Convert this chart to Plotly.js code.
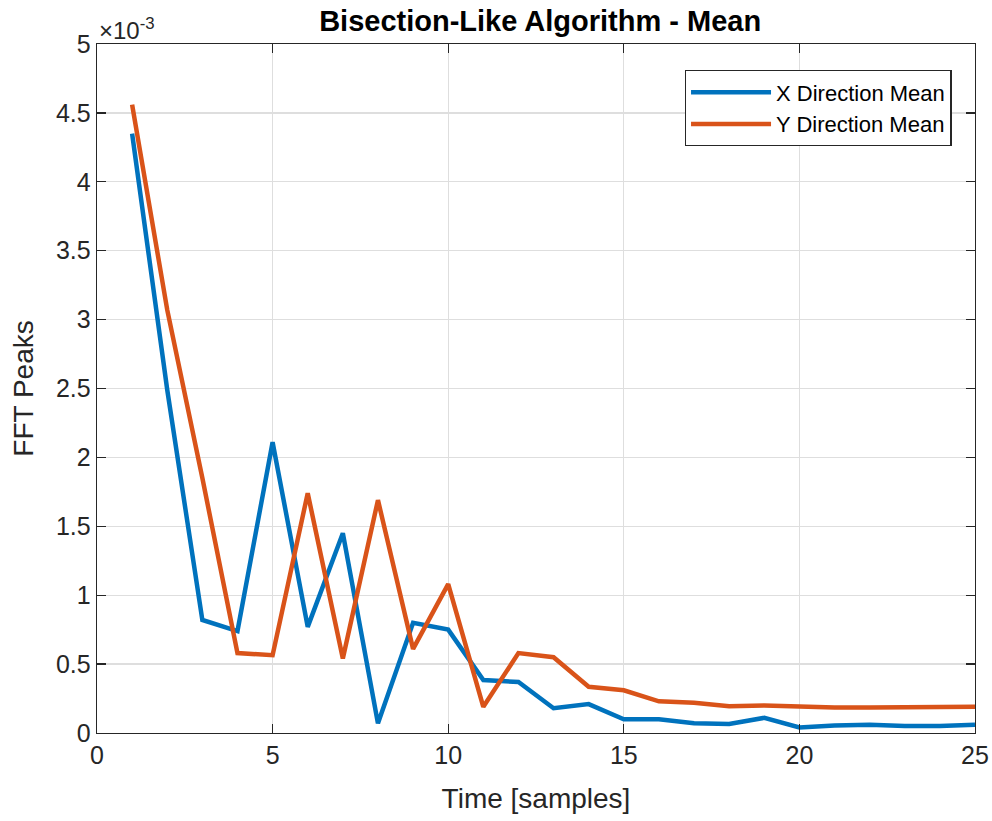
<!DOCTYPE html>
<html>
<head>
<meta charset="utf-8">
<script src="https://cdn.plot.ly/plotly-3.0.1.min.js"></script>
<style>
  html, body { margin: 0; padding: 0; background: #fff; }
  #chart { width: 992px; height: 821px; }
</style>
</head>
<body>
<div id="chart"></div>
<script>
// Time axis (samples) and per-sample mean FFT peaks, in units of 1e-3
const samples = [1, 2, 3, 4, 5, 6, 7, 8, 9, 10, 11, 12, 13, 14, 15, 16, 17, 18, 19, 20, 21, 22, 23, 24, 25];
const xDirectionMean = [4.35, 2.49, 0.82, 0.74, 2.11, 0.77, 1.45, 0.07, 0.80, 0.75, 0.385, 0.37, 0.18, 0.21, 0.10, 0.10, 0.07, 0.065, 0.11, 0.04, 0.055, 0.06, 0.05, 0.05, 0.06];
const yDirectionMean = [4.56, 3.07, 1.85, 0.58, 0.565, 1.74, 0.54, 1.69, 0.61, 1.08, 0.19, 0.58, 0.55, 0.335, 0.31, 0.23, 0.22, 0.195, 0.20, 0.19, 0.185, 0.185, 0.185, 0.185, 0.19];
const seriesNames = ['X Direction Mean', 'Y Direction Mean'];
const yTickVals = [0, 0.5, 1, 1.5, 2, 2.5, 3, 3.5, 4, 4.5, 5];
const yTickText = ['0', '0.5', '1', '1.5', '2', '2.5', '3', '3.5', '4', '4.5', '5'];
const xTickVals = [0, 5, 10, 15, 20, 25];

const textColor = '#262626';
const font = "'Liberation Sans', Arial, Helvetica, sans-serif";

const traces = [
  { x: samples, y: xDirectionMean, name: seriesNames[0], type: 'scatter', mode: 'lines',
    line: { color: '#0072BD', width: 4.5 } },
  { x: samples, y: yDirectionMean, name: seriesNames[1], type: 'scatter', mode: 'lines',
    line: { color: '#D95319', width: 4.5 } }
];

const axisCommon = {
  showline: true, linecolor: '#262626', linewidth: 1.3, mirror: 'ticks',
  ticks: 'inside', ticklen: 9, tickwidth: 1.3, tickcolor: '#262626',
  showgrid: true, gridcolor: '#dedede', gridwidth: 1.3, zeroline: false,
  tickfont: { family: font, size: 25, color: textColor }
};

const layout = {
  width: 992, height: 821,
  margin: { l: 97, r: 17, t: 44, b: 88 },
  paper_bgcolor: '#ffffff', plot_bgcolor: '#ffffff',
  font: { family: font, color: textColor },
  title: { text: '<b>Bisection-Like Algorithm - Mean</b>', font: { family: font, size: 29, color: '#000' },
           x: 0.5445, xanchor: 'center', y: 0.974, yanchor: 'middle' },
  xaxis: Object.assign({}, axisCommon, {
    range: [0, 25], tickvals: xTickVals,
    title: { text: 'Time [samples]', font: { family: font, size: 28, color: textColor }, standoff: 20 }
  }),
  yaxis: Object.assign({}, axisCommon, {
    range: [0, 5], tickvals: yTickVals, ticktext: yTickText,
    title: { text: 'FFT Peaks', font: { family: font, size: 28, color: textColor }, standoff: 14 }
  }),
  showlegend: true,
  legend: {
    x: 0.9735, xanchor: 'right', y: 0.962, yanchor: 'top',
    bgcolor: '#ffffff', bordercolor: '#262626', borderwidth: 1.3,
    font: { family: font, size: 22, color: '#000' },
    tracegroupgap: 0, itemwidth: 80
  },
  annotations: [
    { xref: 'paper', yref: 'paper', x: 0, y: 1, xanchor: 'left', yanchor: 'bottom', yshift: -2, xshift: 0,
      showarrow: false, text: '×10<sup>-3</sup>', font: { family: font, size: 24, color: textColor } }
  ]
};

Plotly.newPlot('chart', traces, layout, { displayModeBar: false, staticPlot: true });
</script>
</body>
</html>
